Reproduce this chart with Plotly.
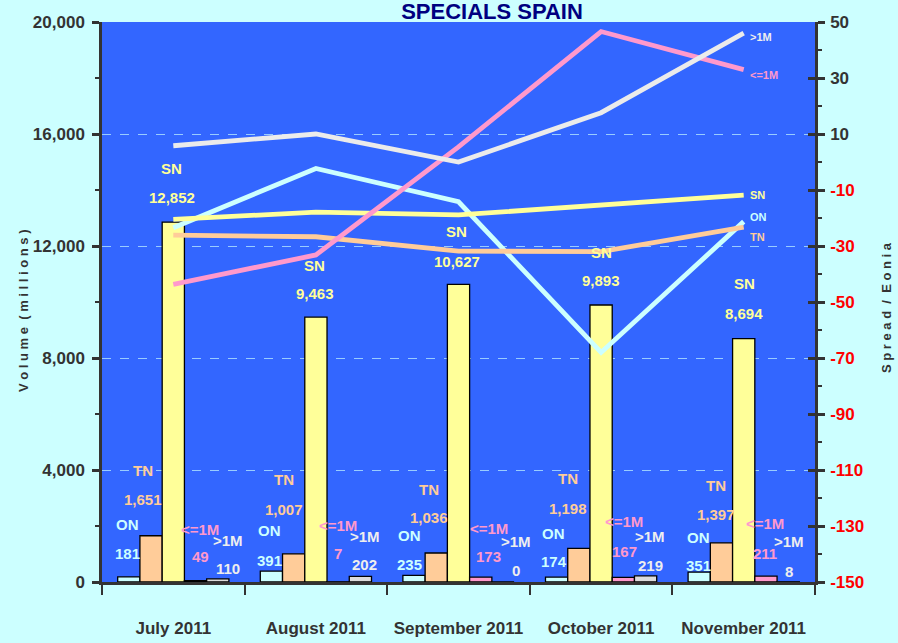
import plotly.graph_objects as go

# ---------------- data ----------------
months = ["July 2011", "August 2011", "September 2011", "October 2011", "November 2011"]

series_names = ["ON", "TN", "SN", "<=1M", ">1M"]
vol_on = [181, 391, 235, 174, 351]
vol_tn = [1651, 1007, 1036, 1198, 1397]
vol_sn = [12852, 9463, 10627, 9893, 8694]
vol_le1m = [49, 7, 173, 167, 211]
vol_gt1m = [110, 202, 0, 219, 8]

spr_on = [-23.5, -2.3, -14.2, -68.0, -21.3]
spr_tn = [-26.1, -26.7, -31.8, -32.0, -23.3]
spr_sn = [-20.5, -17.9, -18.9, -15.3, -11.8]
spr_le1m = [-43.7, -33.2, 5.4, 46.6, 33.0]
spr_gt1m = [5.8, 10.0, 0.0, 17.6, 46.0]

left_ticks = [0, 4000, 8000, 12000, 16000, 20000]
right_ticks = [50, 30, 10, -10, -30, -50, -70, -90, -110, -130, -150]

# ---------------- style ----------------
FONT = "Liberation Sans, Arial, sans-serif"
BAR_COLORS = ["#CCFFFF", "#FFCC99", "#FFFF99", "#FF99CC", "#DCDCDC"]
LINE_COLORS = ["#CCFFFF", "#FFCC99", "#FFFF99", "#FF99CC", "#EBEBEB"]
LABEL_COLORS = ["#CCFFFF", "#FFCC99", "#FFFF99", "#FF99CC", "#EEEEEE"]

W, H = 898, 643
ML, MR, MT, MB = 102, 83, 22, 61
PW = W - ML - MR
PH = H - MT - MB

# label offsets (pixels) per series per month: dx, name dy, value dy
LBL_DX = [
    [-46, -46.4, -48.6, -47.6, -45],
    [-30.5, -31.8, -29.5, -33.2, -27.8],
    [-1.6, -1.4, -1.8, 0, 0.3],
    [26.7, 22.1, 30.2, 22.9, 21.6],
    [54.7, 48.6, 57.8, 49.2, 45.3],
]
LBL_NAME_DY = [
    [52.9, 41, 40.4, 44.1, 34.5],
    [64.8, 73.8, 63, 69.5, 57.2],
    [54.1, 52, 52.7, 53, 55],
    [51.6, 56.8, 48.2, 55.6, 52.1],
    [38.9, 40.3, 40.3, 38.9, 40.1],
]
LBL_VAL_DY = [
    [23.9, 11, 11.4, 15.4, 6.2],
    [35.8, 43.8, 35, 40.2, 27.9],
    [24.4, 23.7, 23.4, 25, 25],
    [24.6, 28.8, 20.5, 25.6, 22.8],
    [10.9, 12.3, 12, 9.9, 10.1],
]
END_DY = [4.7, -9.7, 0, -5, -3.7]  # ON, TN, SN, <=1M, >1M line-end labels

volumes = [vol_on, vol_tn, vol_sn, vol_le1m, vol_gt1m]
spreads = [spr_on, spr_tn, spr_sn, spr_le1m, spr_gt1m]

fig = go.Figure()

for name, vals, col in zip(series_names, volumes, BAR_COLORS):
    fig.add_trace(go.Bar(
        x=months, y=vals, name=name, marker=dict(color=col, line=dict(color="#000000", width=1.3)),
        yaxis="y", showlegend=False, hoverinfo="x+y+name",
    ))

for name, vals, col in zip(series_names, spreads, LINE_COLORS):
    fig.add_trace(go.Scatter(
        x=months, y=vals, name=name + " spread", mode="lines",
        line=dict(color=col, width=4.8), yaxis="y2", showlegend=False,
    ))

# invisible trace so the tick-only overlay axis is drawn
fig.add_trace(go.Scatter(x=[months[0]], y=[None], yaxis="y3", showlegend=False, hoverinfo="skip"))

annotations = []
for si, (name, vals) in enumerate(zip(series_names, volumes)):
    for mi, m in enumerate(months):
        v = vals[mi]
        f = dict(family=FONT, size=15, color=LABEL_COLORS[si], weight="bold")
        annotations.append(dict(
            x=m, y=v, xref="x", yref="y", text=name, showarrow=False,
            xshift=LBL_DX[si][mi], yshift=LBL_NAME_DY[si][mi], font=f,
        ))
        annotations.append(dict(
            x=m, y=v, xref="x", yref="y", text=f"{v:,}", showarrow=False,
            xshift=LBL_DX[si][mi], yshift=LBL_VAL_DY[si][mi], font=f,
        ))

for si, (name, vals) in enumerate(zip(series_names, spreads)):
    annotations.append(dict(
        x=months[-1], y=vals[-1], xref="x", yref="y2", text=name, showarrow=False,
        xanchor="left", xshift=4, yshift=END_DY[si],
        font=dict(family=FONT, size=11, color=LABEL_COLORS[si], weight="bold"),
    ))

# axis titles (placed in pixels relative to the plot area)
annotations.append(dict(
    x=(24 - ML) / PW, y=(H - MB - 311) / PH, xref="paper", yref="paper",
    text="V o l u m e  ( m i l l i o n s )", showarrow=False, textangle=-90,
    xanchor="center", yanchor="middle",
    font=dict(family=FONT, size=13, color="#333333", weight="bold"),
))
annotations.append(dict(
    x=(886 - ML) / PW, y=(H - MB - 308) / PH, xref="paper", yref="paper",
    text="S p r e a d  /  E o n i a", showarrow=False, textangle=-90,
    xanchor="center", yanchor="middle",
    font=dict(family=FONT, size=13, color="#333333", weight="bold"),
))

right_text = [
    (f'<span style="color:#FF0000">{t}</span>' if t < 0 else str(t)) for t in right_ticks
]

fig.update_layout(
    width=W, height=H,
    margin=dict(l=ML, r=MR, t=MT, b=MB, autoexpand=False),
    paper_bgcolor="#CCFFFF", plot_bgcolor="#3366FF",
    barmode="group", bargap=0.22, bargroupgap=0,
    font=dict(family=FONT, color="#333333"),
    title=dict(text="SPECIALS SPAIN", x=492 / W, xanchor="center", y=1 - 11 / H, yanchor="middle",
               automargin=False,
               font=dict(family=FONT, size=22, color="#000080", weight="bold")),
    xaxis=dict(
        type="category", showgrid=False, showline=True, linecolor="#333333", linewidth=3,
        ticks="outside", tickson="boundaries", ticklen=10, tickwidth=2, tickcolor="#333333",
        tickfont=dict(family=FONT, size=17, color="#333333", weight="bold"),
        tickangle=0, automargin=False,
        ticklabelstandoff=29, range=[-0.5, 4.5], zeroline=False,
    ),
    yaxis=dict(
        range=[0, 20000], tickvals=left_ticks, tickformat=",d",
        showgrid=True, gridcolor="#99CCFF", griddash="dash", gridwidth=1,
        showline=True, linecolor="#333333", linewidth=2.5,
        ticks="outside", ticklen=7, tickwidth=2.5, tickcolor="#333333",
        minor=dict(dtick=2000, ticks="outside", ticklen=4, tickwidth=2, tickcolor="#333333", showgrid=False),
        tickfont=dict(family=FONT, size=17, color="#333333", weight="bold"),
        ticklabelstandoff=4, zeroline=False, automargin=False,
    ),
    yaxis2=dict(
        range=[-150, 50], overlaying="y", side="right", anchor="x",
        tickvals=right_ticks, ticktext=right_text, showgrid=False,
        showline=True, linecolor="#333333", linewidth=2.5,
        ticks="outside", ticklen=7, tickwidth=2.5, tickcolor="#333333",
        minor=dict(dtick=10, ticks="outside", ticklen=4, tickwidth=2, tickcolor="#333333"),
        tickfont=dict(family=FONT, size=17, color="#333333", weight="bold"),
        ticklabelstandoff=2, zeroline=False, automargin=False,
    ),
    yaxis3=dict(
        range=[-150, 50], overlaying="y", side="right", anchor="x",
        tickvals=right_ticks, showticklabels=False, showgrid=False, showline=False,
        ticks="inside", ticklen=7, tickwidth=2.5, tickcolor="#333333", zeroline=False,
        automargin=False,
    ),
    annotations=annotations,
)

fig.write_html("out.html", config={"displayModeBar": False},
               post_script="document.body.style.margin='0px';")
